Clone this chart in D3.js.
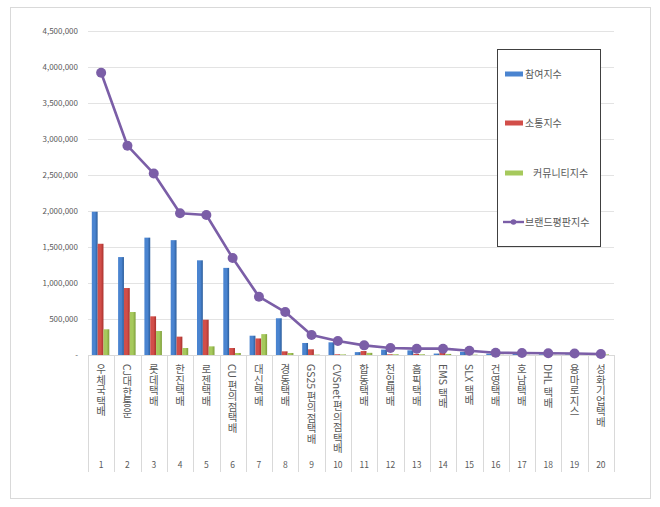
<!DOCTYPE html>
<html>
<head>
<style>
  body {
    margin: 0;
    background-color: #ffffff;
  }

  text {
    font-family: 'Noto Sans CJK KR', 'Noto Sans', sans-serif;
    fill: #595959;
  }
</style>
  <script src="https://d3js.org/d3.v7.min.js"></script>
</head>
<body>
<script>
  const ranks = [1, 2, 3, 4, 5, 6, 7, 8, 9, 10, 11, 12, 13, 14, 15, 16, 17, 18, 19, 20];

  const brands = ['우체국택배', 'CJ대한통운', '롯데택배', '한진택배', '로젠택배', 'CU 편의점택배',
    '대신택배', '경동택배', 'GS25 편의점택배', 'CVSnet 편의점택배', '합동택배', '천일택배',
    '홈픽택배', 'EMS 택배', 'SLX 택배', '건영택배', '호남택배', 'DHL 택배', '용마로지스', '성화기업택배'];

  const participation = [1990000, 1360000, 1630000, 1595000, 1315000, 1210000, 268000, 510000, 167000, 176000,
    40000, 75000, 65000, 20000, 45000, 20000, 15000, 10000, 8000, 5000];
  const communication = [1545000, 930000, 537000, 255000, 490000, 97000, 230000, 51000, 79000, 10000,
    55000, 10000, 15000, 55000, 5000, 5000, 5000, 5000, 5000, 3000];
  const community = [357000, 597000, 333000, 97000, 120000, 28000, 290000, 28000, 5000, 8000,
    30000, 10000, 10000, 15000, 5000, 3000, 3000, 3000, 2000, 8000];
  const reputation = [3920000, 2907000, 2520000, 1968000, 1944000, 1347000, 810000, 597000, 278000, 194000,
    134000, 97000, 88000, 88000, 60000, 32000, 28000, 24000, 20000, 14000];

  const yTicks = [0, 500000, 1000000, 1500000, 2000000, 2500000, 3000000, 3500000, 4000000, 4500000];

  const seriesNames = ['참여지수', '소통지수', '커뮤니티지수'];
  const seriesData = [participation, communication, community];
  const colors = {
    blue: ['#2b5d9b', '#4a84d0'],
    red: ['#a8302c', '#d24e49'],
    green: ['#7d9e3a', '#a6c95c'],
    line: '#7b5ea7',
  };
  const barColors = [colors.blue, colors.red, colors.green];

  const svg = d3.select('body')
    .append('svg')
    .attr('width', 660)
    .attr('height', 507);

  // bar gradients, darker at the edges
  const defs = svg.append('defs');
  barColors.forEach((c, i) => {
    const g = defs.append('linearGradient')
      .attr('id', 'grad' + i)
      .attr('x1', '0%').attr('x2', '100%')
      .attr('y1', '0%').attr('y2', '0%');
    g.append('stop').attr('offset', '0%').attr('stop-color', c[1]);
    g.append('stop').attr('offset', '55%').attr('stop-color', c[1]);
    g.append('stop').attr('offset', '100%').attr('stop-color', c[0]);
  });

  // outer frame
  svg.append('rect')
    .attr('x', 10.5).attr('y', 7.5)
    .attr('width', 640).attr('height', 491)
    .attr('fill', '#fff')
    .attr('stroke', '#d9d9d9');

  const x = d3.scaleBand()
    .domain(ranks)
    .range([88, 614]);

  const xInner = d3.scaleBand()
    .domain(d3.range(seriesData.length))
    .range([3.8, 21.3]);

  const y = d3.scaleLinear()
    .domain([0, 4500000])
    .range([355, 31]);

  // gridlines
  svg.append('g')
    .selectAll('line')
    .data(yTicks.slice(1))
    .join('line')
    .attr('x1', 88).attr('x2', 614)
    .attr('y1', d => Math.round(y(d)) + 0.5)
    .attr('y2', d => Math.round(y(d)) + 0.5)
    .attr('stroke', '#e3e3e3');

  // y axis labels
  const yAxis = d3.axisLeft(y)
    .tickValues(yTicks)
    .tickSize(0)
    .tickPadding(10)
    .tickFormat(d => d === 0 ? '-' : d3.format(',')(d));

  svg.append('g')
    .attr('transform', 'translate(88,0)')
    .call(yAxis)
    .call(g => g.select('.domain').remove())
    .selectAll('text')
    .style('font-size', '8px')
    .style('fill', '#595959');

  // category separators below the axis
  svg.append('g')
    .selectAll('line')
    .data(ranks.concat(['end']))
    .join('line')
    .attr('x1', d => Math.round(d === 'end' ? 614 : x(d)) + 0.5)
    .attr('x2', d => Math.round(d === 'end' ? 614 : x(d)) + 0.5)
    .attr('y1', 355)
    .attr('y2', 472)
    .attr('stroke', '#d9d9d9');

  // bars
  seriesData.forEach((values, s) => {
    svg.append('g')
      .selectAll('rect')
      .data(values)
      .join('rect')
      .attr('x', (d, i) => x(ranks[i]) + xInner(s))
      .attr('width', xInner.bandwidth())
      .attr('y', d => y(d))
      .attr('height', d => y(0) - y(d))
      .attr('fill', 'url(#grad' + s + ')');
  });

  // axis line
  svg.append('line')
    .attr('x1', 88).attr('x2', 614)
    .attr('y1', 355.5).attr('y2', 355.5)
    .attr('stroke', '#d9d9d9');

  // reputation line
  const line = d3.line()
    .x((d, i) => x(ranks[i]) + x.bandwidth() / 2)
    .y(d => y(d));

  svg.append('path')
    .datum(reputation)
    .attr('d', line)
    .attr('fill', 'none')
    .attr('stroke', colors.line)
    .attr('stroke-width', 2.6)
    .attr('stroke-linejoin', 'round');

  svg.append('g')
    .selectAll('circle')
    .data(reputation)
    .join('circle')
    .attr('cx', (d, i) => x(ranks[i]) + x.bandwidth() / 2)
    .attr('cy', d => y(d))
    .attr('r', 5)
    .attr('fill', colors.line);

  // category labels, vertical text
  svg.append('g')
    .selectAll('text')
    .data(brands)
    .join('text')
    .attr('x', (d, i) => x(ranks[i]) + x.bandwidth() / 2)
    .attr('y', 364)
    .style('writing-mode', 'vertical-rl')
    .style('font-size', '10.5px')
    .style('fill', '#595959')
    .text(d => d);

  // rank numbers
  svg.append('g')
    .selectAll('text')
    .data(ranks)
    .join('text')
    .attr('x', d => x(d) + x.bandwidth() / 2)
    .attr('y', 468)
    .attr('text-anchor', 'middle')
    .style('font-size', '8.5px')
    .text(d => d);

  // legend
  const legend = svg.append('g');
  legend.append('rect')
    .attr('x', 497.5).attr('y', 49.5)
    .attr('width', 103).attr('height', 197)
    .attr('fill', '#fff')
    .attr('stroke', '#404040');

  const legendRows = [74, 123, 173];
  seriesNames.forEach((name, i) => {
    legend.append('rect')
      .attr('x', 505).attr('y', legendRows[i] - 2.5)
      .attr('width', 18).attr('height', 5)
      .attr('fill', barColors[i][1]);
    legend.append('text')
      .attr('x', i === 2 ? 533 : 525)
      .attr('y', legendRows[i] + 4)
      .style('font-size', '10px')
      .text(name);
  });

  legend.append('line')
    .attr('x1', 503).attr('x2', 524)
    .attr('y1', 222).attr('y2', 222)
    .attr('stroke', colors.line)
    .attr('stroke-width', 2.4);
  legend.append('circle')
    .attr('cx', 513.5).attr('cy', 222)
    .attr('r', 2.8)
    .attr('fill', colors.line);
  legend.append('text')
    .attr('x', 525)
    .attr('y', 226)
    .style('font-size', '10px')
    .text('브랜드평판지수');
</script>
</body>
</html>
